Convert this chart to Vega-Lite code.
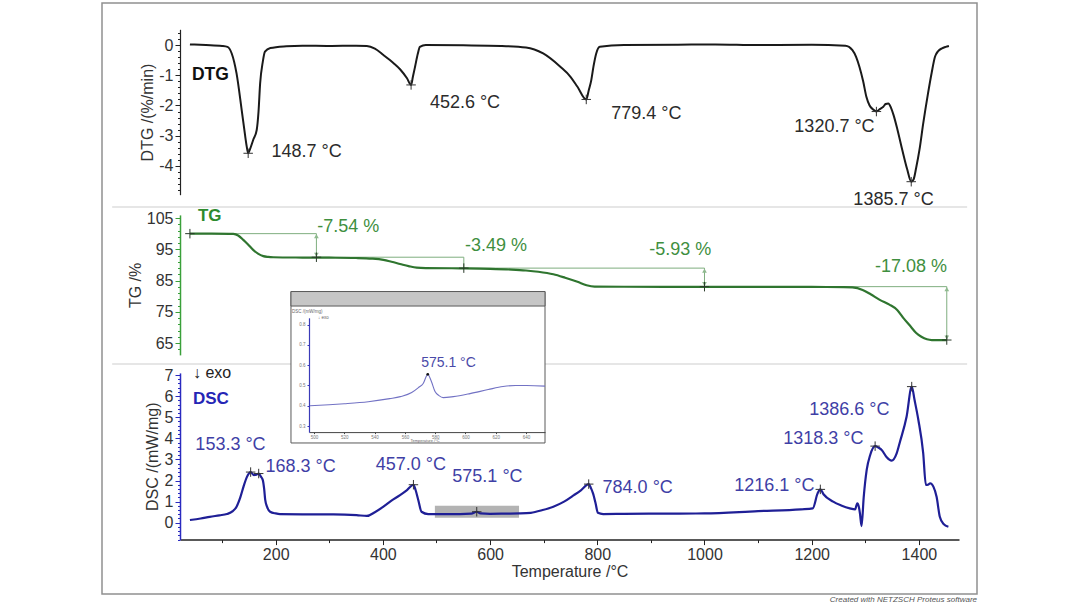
{
  "$schema": "https://vega.github.io/schema/vega-lite/v6.json",
  "width": 875,
  "height": 591,
  "autosize": "none",
  "padding": {"left": 102, "top": 3, "right": 103, "bottom": 13},
  "background": "white",
  "config": {
    "font": "Liberation Sans",
    "view": {"stroke": "#909090", "strokeWidth": 1.5},
    "axis": {
      "grid": false,
      "labelFont": "Liberation Sans",
      "labelFontSize": 16,
      "labelColor": "#333333",
      "titleFont": "Liberation Sans",
      "titleFontSize": 16,
      "titleFontWeight": "normal",
      "titleColor": "#333333",
      "labelOverlap": false,
      "labelBound": false,
      "labelFlush": false
    }
  },
  "title": {
    "text": "Created with NETZSCH Proteus software",
    "orient": "bottom",
    "anchor": "end",
    "frame": "group",
    "fontSize": 8,
    "fontStyle": "italic",
    "fontWeight": "normal",
    "color": "#555555",
    "offset": 2
  },
  "datasets": {
    "dtg": [
      {"t": 40, "v": 0.02}, {"t": 70, "v": 0.0}, {"t": 100, "v": -0.03}, {"t": 110, "v": -0.06},
      {"t": 118, "v": -0.28}, {"t": 127, "v": -0.94}, {"t": 136.6, "v": -2.15}, {"t": 143, "v": -3.0},
      {"t": 146, "v": -3.36}, {"t": 148.7, "v": -3.58}, {"t": 152, "v": -3.45}, {"t": 158, "v": -3.14},
      {"t": 164.6, "v": -2.81}, {"t": 168, "v": -2.2}, {"t": 171, "v": -1.27}, {"t": 176, "v": -0.55},
      {"t": 180, "v": -0.22}, {"t": 190, "v": -0.1}, {"t": 220, "v": -0.04}, {"t": 250, "v": -0.02},
      {"t": 300, "v": -0.03}, {"t": 350, "v": -0.02}, {"t": 370, "v": -0.03}, {"t": 385, "v": -0.12},
      {"t": 401, "v": -0.33}, {"t": 420, "v": -0.6}, {"t": 432, "v": -0.8}, {"t": 445, "v": -1.1},
      {"t": 452.6, "v": -1.32}, {"t": 456, "v": -1.05}, {"t": 460, "v": -0.72}, {"t": 465, "v": -0.3},
      {"t": 469, "v": -0.06}, {"t": 480, "v": 0.0}, {"t": 550, "v": -0.01}, {"t": 620, "v": -0.03},
      {"t": 667, "v": -0.08}, {"t": 699, "v": -0.28}, {"t": 731, "v": -0.72}, {"t": 750, "v": -1.05},
      {"t": 763, "v": -1.38}, {"t": 779.4, "v": -1.8}, {"t": 784, "v": -1.5}, {"t": 788.8, "v": -1.16},
      {"t": 793, "v": -0.7}, {"t": 798, "v": -0.28}, {"t": 804.7, "v": -0.06}, {"t": 850, "v": 0.0},
      {"t": 950, "v": 0.01}, {"t": 1020, "v": 0.02}, {"t": 1100, "v": 0.0}, {"t": 1200, "v": 0.01},
      {"t": 1263, "v": -0.02}, {"t": 1276, "v": -0.17}, {"t": 1283, "v": -0.4}, {"t": 1289, "v": -0.72},
      {"t": 1296, "v": -1.2}, {"t": 1302, "v": -1.71}, {"t": 1308, "v": -2.0}, {"t": 1314.5, "v": -2.13},
      {"t": 1320.7, "v": -2.2}, {"t": 1327, "v": -2.12}, {"t": 1333.6, "v": -2.04}, {"t": 1338, "v": -1.95},
      {"t": 1343, "v": -1.93}, {"t": 1348, "v": -2.08}, {"t": 1352.6, "v": -2.31}, {"t": 1360, "v": -2.8},
      {"t": 1369, "v": -3.47}, {"t": 1378, "v": -4.1}, {"t": 1385.7, "v": -4.52}, {"t": 1390, "v": -4.45},
      {"t": 1395, "v": -4.05}, {"t": 1401, "v": -3.47}, {"t": 1408, "v": -2.6}, {"t": 1417, "v": -1.6},
      {"t": 1424, "v": -0.9}, {"t": 1430, "v": -0.39}, {"t": 1436, "v": -0.2}, {"t": 1443, "v": -0.11},
      {"t": 1450, "v": -0.06}, {"t": 1456, "v": -0.03}
    ],
    "dtgPeaks": [
      {"t": 148.7, "v": -3.58}, {"t": 452.6, "v": -1.32}, {"t": 779.4, "v": -1.8},
      {"t": 1320.7, "v": -2.2}, {"t": 1385.7, "v": -4.52}
    ],
    "dtgLabels": [
      {"t": 257.8, "v": -3.53, "label": "148.7 °C"},
      {"t": 553.2, "v": -1.91, "label": "452.6 °C"},
      {"t": 891.4, "v": -2.29, "label": "779.4 °C"},
      {"t": 1242.5, "v": -2.7, "label": "1320.7 °C"},
      {"t": 1352.6, "v": -5.12, "label": "1385.7 °C"}
    ],
    "dtgName": [{"t": 43.8, "v": -0.99, "label": "DTG"}],
    "dtgRule": [{"t": -105, "t2": 1490, "v": -5.355}],
    "tg": [
      {"t": 40, "v": 100}, {"t": 80, "v": 99.98}, {"t": 121, "v": 99.9}, {"t": 130, "v": 99.4},
      {"t": 139.6, "v": 98.0}, {"t": 148, "v": 96.6}, {"t": 158, "v": 94.8}, {"t": 167, "v": 93.6},
      {"t": 176.9, "v": 92.8}, {"t": 186, "v": 92.55}, {"t": 195.5, "v": 92.45}, {"t": 250, "v": 92.35},
      {"t": 300, "v": 92.3}, {"t": 350, "v": 92.2}, {"t": 380, "v": 92.0}, {"t": 401, "v": 91.6},
      {"t": 416, "v": 91.0}, {"t": 432, "v": 90.3}, {"t": 448, "v": 89.6}, {"t": 463, "v": 89.1},
      {"t": 480, "v": 88.98}, {"t": 543.8, "v": 88.9}, {"t": 600, "v": 88.75}, {"t": 640, "v": 88.5},
      {"t": 667, "v": 88.2}, {"t": 690, "v": 87.8}, {"t": 718, "v": 87.0}, {"t": 740, "v": 85.9},
      {"t": 763, "v": 84.6}, {"t": 780, "v": 83.5}, {"t": 795, "v": 83.05}, {"t": 850, "v": 83.0},
      {"t": 1000, "v": 83.0}, {"t": 1100, "v": 82.98}, {"t": 1200, "v": 82.95}, {"t": 1260, "v": 82.9},
      {"t": 1276, "v": 82.8}, {"t": 1295, "v": 82.0}, {"t": 1310, "v": 80.6}, {"t": 1327, "v": 78.8},
      {"t": 1345, "v": 77.3}, {"t": 1359.5, "v": 75.6}, {"t": 1372, "v": 72.8}, {"t": 1385, "v": 70.2},
      {"t": 1395, "v": 68.2}, {"t": 1404.6, "v": 67.0}, {"t": 1415, "v": 66.2}, {"t": 1424, "v": 65.96},
      {"t": 1452, "v": 65.96}
    ],
    "tgSteps": [
      {"t": 40, "t2": 276, "v": 100, "v2": 100},
      {"t": 276, "t2": 276, "v": 100, "v2": 92.46},
      {"t": 276, "t2": 551, "v": 92.46, "v2": 92.46},
      {"t": 551, "t2": 551, "v": 92.46, "v2": 88.97},
      {"t": 551, "t2": 1000, "v": 88.97, "v2": 88.97},
      {"t": 1000, "t2": 1000, "v": 88.97, "v2": 83.04},
      {"t": 1000, "t2": 1452, "v": 83.04, "v2": 83.04},
      {"t": 1452, "t2": 1452, "v": 83.04, "v2": 65.96}
    ],
    "tgArrows": [
      {"t": 276, "v": 99.2, "end": "top"}, {"t": 276, "v": 93.26, "end": "bottom"},
      {"t": 1000, "v": 88.17, "end": "top"}, {"t": 1000, "v": 83.84, "end": "bottom"},
      {"t": 1452, "v": 82.24, "end": "top"}, {"t": 1452, "v": 66.76, "end": "bottom"}
    ],
    "tgMarks": [
      {"t": 40, "v": 100}, {"t": 276, "v": 92.46}, {"t": 551, "v": 88.97},
      {"t": 1000, "v": 83.04}, {"t": 1452, "v": 65.96}
    ],
    "tgLabels": [
      {"t": 335.4, "v": 102.2, "label": "-7.54 %"},
      {"t": 611, "v": 96.04, "label": "-3.49 %"},
      {"t": 954.9, "v": 94.76, "label": "-5.93 %"},
      {"t": 1385.3, "v": 89.42, "label": "-17.08 %"}
    ],
    "tgName": [{"t": 55, "v": 105.64, "label": "TG"}],
    "tgRule": [{"t": -105, "t2": 1490, "v": 58.28}],
    "dsc": [
      {"t": 40, "v": 0.13}, {"t": 60, "v": 0.2}, {"t": 77, "v": 0.28}, {"t": 95, "v": 0.35},
      {"t": 109, "v": 0.41}, {"t": 120, "v": 0.55}, {"t": 127, "v": 0.76}, {"t": 134, "v": 1.2},
      {"t": 140, "v": 1.71}, {"t": 146, "v": 2.15}, {"t": 153.3, "v": 2.4}, {"t": 159.5, "v": 2.26},
      {"t": 164, "v": 2.28}, {"t": 168.3, "v": 2.33}, {"t": 172, "v": 2.2}, {"t": 176, "v": 2.02},
      {"t": 178.5, "v": 1.6}, {"t": 180.5, "v": 1.08}, {"t": 184, "v": 0.75}, {"t": 189.6, "v": 0.52},
      {"t": 200, "v": 0.44}, {"t": 208, "v": 0.41}, {"t": 250, "v": 0.4}, {"t": 307.5, "v": 0.4},
      {"t": 351, "v": 0.36}, {"t": 370, "v": 0.32}, {"t": 385, "v": 0.5}, {"t": 401, "v": 0.76},
      {"t": 416, "v": 1.05}, {"t": 432, "v": 1.31}, {"t": 445, "v": 1.55}, {"t": 457.0, "v": 1.8},
      {"t": 461, "v": 1.55}, {"t": 466, "v": 1.08}, {"t": 472, "v": 0.52}, {"t": 484.5, "v": 0.41},
      {"t": 506.4, "v": 0.41}, {"t": 543.8, "v": 0.41}, {"t": 565, "v": 0.43}, {"t": 575.1, "v": 0.52},
      {"t": 582, "v": 0.44}, {"t": 600, "v": 0.42}, {"t": 630, "v": 0.43}, {"t": 655, "v": 0.44},
      {"t": 676, "v": 0.47}, {"t": 698, "v": 0.6}, {"t": 718, "v": 0.76}, {"t": 738, "v": 1.0},
      {"t": 756.5, "v": 1.31}, {"t": 770, "v": 1.55}, {"t": 784.0, "v": 1.83}, {"t": 788, "v": 1.65},
      {"t": 792, "v": 1.39}, {"t": 797, "v": 0.9}, {"t": 801, "v": 0.47}, {"t": 811, "v": 0.41},
      {"t": 850, "v": 0.42}, {"t": 900, "v": 0.43}, {"t": 1000, "v": 0.44}, {"t": 1100, "v": 0.55},
      {"t": 1180, "v": 0.63}, {"t": 1202, "v": 0.68}, {"t": 1211, "v": 1.39}, {"t": 1216.1, "v": 1.58},
      {"t": 1222, "v": 1.35}, {"t": 1240, "v": 1.0}, {"t": 1255, "v": 0.82}, {"t": 1271, "v": 0.68},
      {"t": 1281, "v": 0.63}, {"t": 1285, "v": 0.92}, {"t": 1288, "v": 0.75}, {"t": 1290, "v": 0.44},
      {"t": 1293, "v": -0.16}, {"t": 1297, "v": 1.2}, {"t": 1302.6, "v": 2.5}, {"t": 1309, "v": 3.2},
      {"t": 1318.3, "v": 3.63}, {"t": 1325, "v": 3.55}, {"t": 1330.6, "v": 3.45}, {"t": 1340, "v": 3.1},
      {"t": 1349, "v": 2.94}, {"t": 1358.5, "v": 3.29}, {"t": 1364.7, "v": 3.84}, {"t": 1377, "v": 5.02},
      {"t": 1386.6, "v": 6.45}, {"t": 1392, "v": 5.8}, {"t": 1399, "v": 4.87}, {"t": 1408, "v": 3.3},
      {"t": 1413, "v": 1.79}, {"t": 1417, "v": 1.8}, {"t": 1421, "v": 1.87}, {"t": 1427, "v": 1.71},
      {"t": 1433, "v": 1.23}, {"t": 1439, "v": 0.28}, {"t": 1446, "v": -0.06}, {"t": 1455, "v": -0.19}
    ],
    "dscPeaks": [
      {"t": 153.3, "v": 2.4}, {"t": 168.3, "v": 2.33}, {"t": 457.0, "v": 1.8}, {"t": 575.1, "v": 0.52},
      {"t": 784.0, "v": 1.83}, {"t": 1216.1, "v": 1.58}, {"t": 1318.3, "v": 3.63}, {"t": 1386.6, "v": 6.45}
    ],
    "dscLabels": [
      {"t": 115.7, "v": 3.68, "label": "153.3 °C"},
      {"t": 246.6, "v": 2.63, "label": "168.3 °C"},
      {"t": 452.1, "v": 2.73, "label": "457.0 °C"},
      {"t": 595.1, "v": 2.15, "label": "575.1 °C"},
      {"t": 875.4, "v": 1.66, "label": "784.0 °C"},
      {"t": 1130.4, "v": 1.74, "label": "1216.1 °C"},
      {"t": 1221.6, "v": 3.99, "label": "1318.3 °C"},
      {"t": 1270.1, "v": 5.36, "label": "1386.6 °C"}
    ],
    "dscName": [{"t": 45.7, "v": 5.85, "label": "DSC"}],
    "dscExo": [{"t": 45.7, "v": 7.08, "label": "↓ exo"}],
    "dscBox": [{"t": 497, "t2": 654, "v": 0.24, "v2": 0.81}],
    "inset": [
      {"t": 497.4, "v": 0.4}, {"t": 510, "v": 0.405}, {"t": 520, "v": 0.41}, {"t": 535.8, "v": 0.42},
      {"t": 550, "v": 0.435}, {"t": 557, "v": 0.445}, {"t": 564.5, "v": 0.465}, {"t": 569, "v": 0.49},
      {"t": 572.1, "v": 0.51}, {"t": 575.1, "v": 0.555}, {"t": 577.5, "v": 0.52}, {"t": 579.9, "v": 0.47},
      {"t": 582.5, "v": 0.45}, {"t": 585.3, "v": 0.44}, {"t": 592, "v": 0.445}, {"t": 603, "v": 0.46},
      {"t": 615, "v": 0.48}, {"t": 624.8, "v": 0.495}, {"t": 633, "v": 0.5}, {"t": 640.4, "v": 0.5},
      {"t": 652.5, "v": 0.497}
    ],
    "insetFrame": [{"t": 484.8, "t2": 652.5, "v": 0.2163, "v2": 0.9636}],
    "insetHeader": [{"t": 484.8, "t2": 652.5, "v": 0.892, "v2": 0.9636}],
    "insetPeak": [{"t": 575.1, "v": 0.555}],
    "insetLabel": [{"t": 588.8, "v": 0.609, "label": "575.1 °C"}],
    "insetYTitle": [{"t": 485.5, "v": 0.862, "label": "DSC /(mW/mg)"}],
    "insetExo": [{"t": 502.6, "v": 0.832, "label": "↓ exo"}],
    "insetXTitle": [{"t": 573.3, "v": 0.2255, "label": "Temperature /°C"}]
  },
  "layer": [
    {
      "encoding": {
        "x": {
          "field": "t", "type": "quantitative",
          "scale": {"domain": [21.5, 1474.8], "range": [78, 857], "nice": false, "zero": false},
          "axis": null
        },
        "y": {
          "field": "v", "type": "quantitative",
          "scale": {"domain": [-4.95, 0.52], "range": [191.7, 26.3], "nice": false, "zero": false},
          "axis": {
            "orient": "left", "offset": -78, "title": "DTG /(%/min)", "titlePadding": 3, "zindex": 1,
            "values": [-4.8, -4.6, -4.4, -4.2, -4, -3.8, -3.6, -3.4, -3.2, -3, -2.8, -2.6, -2.4, -2.2, -2, -1.8, -1.6, -1.4, -1.2, -1, -0.8, -0.6, -0.4, -0.2, 0, 0.2, 0.4],
            "labelExpr": "datum.value % 1 === 0 ? '' + datum.value : ''",
            "tickSize": {"condition": {"test": "datum.value % 1 !== 0", "value": 2.5}, "value": 5},
            "labelPadding": 2, "domainColor": "#222222", "tickColor": "#222222", "domainWidth": 1.2
          }
        }
      },
      "layer": [
        {"data": {"name": "dtgRule"}, "mark": {"type": "rule", "color": "#e6e6e6", "strokeWidth": 2}, "encoding": {"x2": {"field": "t2"}}},
        {"data": {"name": "dtg"}, "mark": {"type": "line", "color": "#1a1a1a", "strokeWidth": 2, "interpolate": "monotone"}},
        {"data": {"name": "dtgPeaks"}, "mark": {"type": "point", "shape": "M-1,0L1,0M0,-1L0,1", "size": 90, "filled": false, "stroke": "#333333", "strokeWidth": 1, "opacity": 1}},
        {"data": {"name": "dtgLabels"}, "mark": {"type": "text", "fontSize": 18, "color": "#2b2b2b"}, "encoding": {"text": {"field": "label"}}},
        {"data": {"name": "dtgName"}, "mark": {"type": "text", "fontSize": 17.5, "fontWeight": "bold", "align": "left", "color": "#111111"}, "encoding": {"text": {"field": "label"}}}
      ]
    },
    {
      "encoding": {
        "x": {
          "field": "t", "type": "quantitative",
          "scale": {"domain": [21.5, 1474.8], "range": [78, 857], "nice": false, "zero": false},
          "axis": null
        },
        "y": {
          "field": "v", "type": "quantitative",
          "scale": {"domain": [61.2, 106], "range": [351.9, 211.9], "nice": false, "zero": false},
          "axis": {
            "orient": "left", "offset": -78, "title": "TG /%", "titlePadding": 3, "zindex": 1,
            "values": [63, 65, 67, 69, 71, 73, 75, 77, 79, 81, 83, 85, 87, 89, 91, 93, 95, 97, 99, 101, 103, 105],
            "labelExpr": "(datum.value - 5) % 10 === 0 ? '' + datum.value : ''",
            "tickSize": {"condition": {"test": "(datum.value - 5) % 10 !== 0", "value": 2.5}, "value": 5},
            "labelPadding": 2, "domainColor": "#3aa03a", "tickColor": "#3aa03a", "domainWidth": 1.5
          }
        }
      },
      "layer": [
        {"data": {"name": "tgRule"}, "mark": {"type": "rule", "color": "#e6e6e6", "strokeWidth": 2}, "encoding": {"x2": {"field": "t2"}}},
        {"data": {"name": "tgSteps"}, "mark": {"type": "rule", "color": "#7fae7f", "strokeWidth": 1}, "encoding": {"x2": {"field": "t2"}, "y2": {"field": "v2"}}},
        {"data": {"name": "tgArrows"}, "transform": [{"filter": "datum.end === 'top'"}], "mark": {"type": "point", "shape": "triangle-up", "size": 22, "filled": true, "color": "#8fba8f", "opacity": 1}},
        {"data": {"name": "tgArrows"}, "transform": [{"filter": "datum.end === 'bottom'"}], "mark": {"type": "point", "shape": "triangle-down", "size": 22, "filled": true, "color": "#8fba8f", "opacity": 1}},
        {"data": {"name": "tg"}, "mark": {"type": "line", "color": "#2f752f", "strokeWidth": 2.2, "interpolate": "monotone"}},
        {"data": {"name": "tgMarks"}, "mark": {"type": "point", "shape": "M-1,0L1,0M0,-1L0,1", "size": 90, "filled": false, "stroke": "#2a3a2a", "strokeWidth": 1, "opacity": 1}},
        {"data": {"name": "tgLabels"}, "mark": {"type": "text", "fontSize": 18, "color": "#3f8f3f"}, "encoding": {"text": {"field": "label"}}},
        {"data": {"name": "tgName"}, "mark": {"type": "text", "fontSize": 17, "fontWeight": "bold", "align": "left", "color": "#2e8b2e"}, "encoding": {"text": {"field": "label"}}}
      ]
    },
    {
      "encoding": {
        "x": {
          "field": "t", "type": "quantitative",
          "scale": {"domain": [21.5, 1474.8], "range": [78, 857], "nice": false, "zero": false},
          "axis": {
            "orient": "bottom", "offset": -54.4, "title": "Temperature /°C", "titlePadding": 1, "zindex": 1,
            "values": [100, 200, 300, 400, 500, 600, 700, 800, 900, 1000, 1100, 1200, 1300, 1400],
            "labelExpr": "datum.value % 200 === 0 ? '' + datum.value : ''",
            "tickSize": {"condition": {"test": "datum.value % 200 !== 0", "value": 3}, "value": 5},
            "labelPadding": 2, "domainColor": "#222222", "tickColor": "#222222", "domainWidth": 1.5
          }
        },
        "y": {
          "field": "v", "type": "quantitative",
          "scale": {"domain": [-0.8, 7.1], "range": [536.6, 369.9], "nice": false, "zero": false},
          "axis": {
            "orient": "left", "offset": -78, "title": "DSC /(mW/mg)", "titlePadding": 4, "zindex": 1,
            "values": [-0.8, -0.6, -0.4, -0.2, 0, 0.2, 0.4, 0.6, 0.8, 1, 1.2, 1.4, 1.6, 1.8, 2, 2.2, 2.4, 2.6, 2.8, 3, 3.2, 3.4, 3.6, 3.8, 4, 4.2, 4.4, 4.6, 4.8, 5, 5.2, 5.4, 5.6, 5.8, 6, 6.2, 6.4, 6.6, 6.8, 7],
            "labelExpr": "datum.value % 1 === 0 ? '' + datum.value : ''",
            "tickSize": {"condition": {"test": "datum.value % 1 !== 0", "value": 2.5}, "value": 5},
            "labelPadding": 2, "domainColor": "#2a2ac0", "tickColor": "#2a2ac0", "domainWidth": 1.5
          }
        }
      },
      "layer": [
        {"data": {"name": "dscBox"}, "mark": {"type": "rect", "color": "#a6a6a6", "opacity": 0.85}, "encoding": {"x2": {"field": "t2"}, "y2": {"field": "v2"}}},
        {"data": {"name": "dsc"}, "mark": {"type": "line", "color": "#1f1f96", "strokeWidth": 2.2, "interpolate": "monotone"}},
        {"data": {"name": "dscPeaks"}, "mark": {"type": "point", "shape": "M-1,0L1,0M0,-1L0,1", "size": 90, "filled": false, "stroke": "#333333", "strokeWidth": 1, "opacity": 1}},
        {"data": {"name": "dscLabels"}, "mark": {"type": "text", "fontSize": 18, "color": "#3f3fa6"}, "encoding": {"text": {"field": "label"}}},
        {"data": {"name": "dscName"}, "mark": {"type": "text", "fontSize": 17, "fontWeight": "bold", "align": "left", "color": "#2525b5"}, "encoding": {"text": {"field": "label"}}},
        {"data": {"name": "dscExo"}, "mark": {"type": "text", "fontSize": 16, "align": "left", "color": "#222222"}, "encoding": {"text": {"field": "label"}}}
      ]
    },
    {
      "encoding": {
        "x": {
          "field": "t", "type": "quantitative",
          "scale": {"domain": [496.7, 652.5], "range": [207, 443], "nice": false, "zero": false},
          "axis": {
            "orient": "bottom", "offset": -161.9, "title": null, "zindex": 5,
            "values": [500, 520, 540, 560, 580, 600, 620, 640],
            "labelFontSize": 4.5, "labelColor": "#777777", "tickSize": 1.5, "labelPadding": 0.5,
            "domainColor": "#444444", "tickColor": "#444444", "domainWidth": 1
          }
        },
        "y": {
          "field": "v", "type": "quantitative",
          "scale": {"domain": [0.27, 0.834], "range": [429.1, 314.8], "nice": false, "zero": false},
          "axis": {
            "orient": "left", "offset": -207, "title": null, "zindex": 5,
            "values": [0.3, 0.4, 0.5, 0.6, 0.7, 0.8],
            "format": ".1f",
            "labelFontSize": 4.5, "labelColor": "#777777", "tickSize": 2, "labelPadding": 2,
            "domainColor": "#3a3ab8", "tickColor": "#3a3ab8", "domainWidth": 1.2
          }
        }
      },
      "layer": [
        {"data": {"name": "insetFrame"}, "mark": {"type": "rect", "fill": "white", "stroke": "#5a5a5a", "strokeWidth": 1}, "encoding": {"x2": {"field": "t2"}, "y2": {"field": "v2"}}},
        {"data": {"name": "insetHeader"}, "mark": {"type": "rect", "fill": "#c6c6c6", "stroke": "#5a5a5a", "strokeWidth": 1}, "encoding": {"x2": {"field": "t2"}, "y2": {"field": "v2"}}},
        {"data": {"name": "inset"}, "mark": {"type": "line", "color": "#7272c4", "strokeWidth": 1.1, "interpolate": "monotone"}},
        {"data": {"name": "insetPeak"}, "mark": {"type": "point", "shape": "circle", "size": 7, "filled": true, "color": "#111111", "opacity": 1}},
        {"data": {"name": "insetLabel"}, "mark": {"type": "text", "fontSize": 14, "color": "#4a4aa8"}, "encoding": {"text": {"field": "label"}}},
        {"data": {"name": "insetYTitle"}, "mark": {"type": "text", "fontSize": 4.5, "align": "left", "color": "#666666"}, "encoding": {"text": {"field": "label"}}},
        {"data": {"name": "insetExo"}, "mark": {"type": "text", "fontSize": 4.5, "align": "left", "color": "#666666"}, "encoding": {"text": {"field": "label"}}},
        {"data": {"name": "insetXTitle"}, "mark": {"type": "text", "fontSize": 4, "color": "#666666"}, "encoding": {"text": {"field": "label"}}}
      ]
    }
  ],
  "resolve": {
    "scale": {"x": "independent", "y": "independent"},
    "axis": {"x": "independent", "y": "independent"}
  }
}
